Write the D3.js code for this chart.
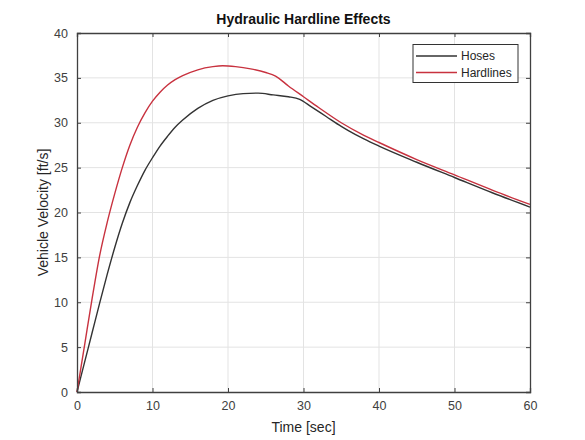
<!DOCTYPE html>
<html>
<head>
  <meta charset="utf-8">
  <script src="https://d3js.org/d3.v7.min.js"></script>
  <style>
    body { margin: 0; background: #fff; }
    svg { font-family: "Liberation Sans", Arial, sans-serif; }
    .tick text { fill: #404040; font-size: 12.5px; }
  </style>
</head>
<body>
<script>
// time samples (sec) and velocities (ft/s)
var hoseTime = [0, 1, 2, 3, 4, 5, 6, 7, 8, 9, 10, 11, 12, 13, 14, 16, 18, 20, 22, 24, 26, 28, 29.5, 31, 33, 35, 36, 38, 40, 45, 50, 55, 60];
var hoseVel  = [0, 3.3, 6.6, 9.9, 13.1, 16.1, 18.8, 21.1, 23.0, 24.7, 26.1, 27.4, 28.5, 29.5, 30.3, 31.6, 32.5, 33.0, 33.25, 33.3, 33.1, 32.9, 32.6, 31.8, 30.7, 29.6, 29.1, 28.2, 27.4, 25.6, 23.9, 22.2, 20.6];

var hardTime = [0, 1, 2, 3, 4, 5, 6, 7, 8, 9, 10, 11, 12, 13, 14, 16, 18, 19.3, 21, 23, 25, 26.3, 28, 30, 32, 35, 38, 40, 45, 50, 55, 60];
var hardVel  = [0, 5.2, 10.4, 15.2, 18.9, 22.1, 25.0, 27.5, 29.5, 31.1, 32.4, 33.4, 34.2, 34.8, 35.25, 35.9, 36.25, 36.35, 36.25, 36.0, 35.6, 35.2, 34.1, 32.9, 31.7, 30.0, 28.6, 27.8, 25.9, 24.2, 22.5, 20.9];

var xTicks = [0, 10, 20, 30, 40, 50, 60];
var yTicks = [0, 5, 10, 15, 20, 25, 30, 35, 40];

var seriesNames = ["Hoses", "Hardlines"];
var seriesColors = ["#333333", "#c8323f"];

var W = 585, H = 440;
var padL = 77, padR = 530, padT = 33, padB = 392;

var svg = d3.select("body").append("svg")
  .attr("width", W).attr("height", H);

var x = d3.scaleLinear().domain([0, 60]).range([padL, padR]);
var y = d3.scaleLinear().domain([0, 40]).range([padB, padT]);

// grid
svg.append("g").selectAll("line").data(xTicks.slice(1, -1)).enter().append("line")
  .attr("x1", d => x(d)).attr("x2", d => x(d))
  .attr("y1", padT).attr("y2", padB)
  .attr("stroke", "#e3e3e3").attr("stroke-width", 1);
svg.append("g").selectAll("line").data(yTicks.slice(1, -1)).enter().append("line")
  .attr("y1", d => y(d)).attr("y2", d => y(d))
  .attr("x1", padL).attr("x2", padR)
  .attr("stroke", "#e3e3e3").attr("stroke-width", 1);

// curves
var line = d3.line()
  .x(d => x(d[0])).y(d => y(d[1]))
  .curve(d3.curveMonotoneX);

var hoses = hoseTime.map((t, i) => [t, hoseVel[i]]);
var hard = hardTime.map((t, i) => [t, hardVel[i]]);

svg.append("path").datum(hoses)
  .attr("d", line).attr("fill", "none")
  .attr("stroke", seriesColors[0]).attr("stroke-width", 1.4);
svg.append("path").datum(hard)
  .attr("d", line).attr("fill", "none")
  .attr("stroke", seriesColors[1]).attr("stroke-width", 1.4);

// axes (ticks pointing inward, box on)
var axCol = "#404040";
svg.append("g").attr("transform", "translate(0," + padB + ")")
  .call(d3.axisBottom(x).tickValues(xTicks).tickSize(-4).tickPadding(9));
svg.append("g").attr("transform", "translate(" + padL + ",0)")
  .call(d3.axisLeft(y).tickValues(yTicks).tickSize(-4).tickPadding(9));
svg.append("g").attr("transform", "translate(0," + padT + ")")
  .call(d3.axisTop(x).tickValues(xTicks).tickSize(-4).tickFormat(""));
svg.append("g").attr("transform", "translate(" + padR + ",0)")
  .call(d3.axisRight(y).tickValues(yTicks).tickSize(-4).tickFormat(""));
svg.selectAll(".domain").attr("stroke", axCol).attr("stroke-width", 1.3);
svg.selectAll(".tick line").attr("stroke", axCol);

// title and labels
svg.append("text")
  .attr("x", (padL + padR) / 2).attr("y", 24)
  .attr("text-anchor", "middle")
  .attr("font-weight", "bold").attr("font-size", "14px")
  .attr("fill", "#111")
  .text("Hydraulic Hardline Effects");

svg.append("text")
  .attr("x", (padL + padR) / 2).attr("y", 432)
  .attr("text-anchor", "middle")
  .attr("font-size", "14px").attr("fill", "#262626")
  .text("Time [sec]");

svg.append("text")
  .attr("transform", "translate(48," + ((padT + padB) / 2) + ") rotate(-90)")
  .attr("text-anchor", "middle")
  .attr("font-size", "14px").attr("fill", "#262626")
  .text("Vehicle Velocity [ft/s]");

// legend
var lg = svg.append("g");
lg.append("rect")
  .attr("x", 413).attr("y", 44.5).attr("width", 105).attr("height", 38)
  .attr("fill", "#fff").attr("stroke", "#333").attr("stroke-width", 1);
seriesNames.forEach(function (name, i) {
  var yy = 56 + i * 16.5;
  lg.append("line")
    .attr("x1", 416).attr("x2", 457).attr("y1", yy).attr("y2", yy)
    .attr("stroke", seriesColors[i]).attr("stroke-width", 1.4);
  lg.append("text")
    .attr("x", 461).attr("y", yy + 4)
    .attr("font-size", "12px").attr("fill", "#262626")
    .text(name);
});
</script>
</body>
</html>
